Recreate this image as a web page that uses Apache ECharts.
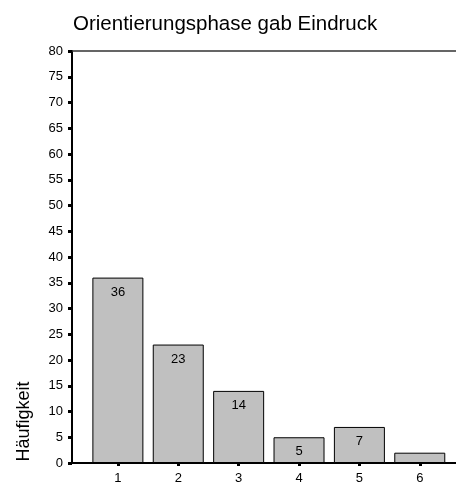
<!DOCTYPE html>
<html>
<head>
<meta charset="utf-8">
<script src="https://cdn.jsdelivr.net/npm/echarts@6/dist/echarts.min.js"></script>
<style>html,body{margin:0;padding:0;background:#fff}#c{width:456px;height:487px}</style>
</head>
<body>
<div id="c"></div>
<script>
const titleText = 'Orientierungsphase gab Eindruck';
const yTitle = 'Häufigkeit';
const categories = [1, 2, 3, 4, 5, 6];
const counts = [36, 23, 14, 5, 7, 2];
const yMin = 0, yMax = 80, yStep = 5;

const FONT = '"Liberation Sans", Arial, sans-serif';
const chart = echarts.init(document.getElementById('c'), null, {renderer: 'canvas'});
chart.setOption({
  animation: false,
  backgroundColor: '#fff',
  title: {
    text: titleText,
    left: 73, top: 14, padding: 0,
    textStyle: {fontFamily: FONT, fontSize: 20.5, fontWeight: 'normal', color: '#000'}
  },
  grid: {left: 72, right: 0, top: 51, bottom: 24, containLabel: false},
  graphic: [{
    type: 'text',
    x: 24.5, y: 421.5,
    rotation: Math.PI / 2,
    style: {text: yTitle, font: '18px ' + FONT, fill: '#000',
            align: 'center', verticalAlign: 'middle', textAlign: 'center', textVerticalAlign: 'middle'}
  }],
  xAxis: [{
    type: 'value', min: 0.24, max: 6.6,
    splitLine: {show: false},
    axisLine: {show: true, onZero: false, lineStyle: {color: '#000', width: 2}},
    axisTick: {show: true, customValues: categories, length: 3, lineStyle: {color: '#000', width: 3}},
    axisLabel: {show: true, customValues: categories, margin: 9, fontFamily: FONT, fontSize: 13, color: '#000'}
  }, {
    type: 'value', position: 'top', min: 0.24, max: 6.6,
    splitLine: {show: false},
    axisLine: {show: true, onZero: false, lineStyle: {color: '#333', width: 1.5}},
    axisTick: {show: false}, axisLabel: {show: false}
  }],
  yAxis: {
    type: 'value', min: yMin, max: yMax, interval: yStep,
    splitLine: {show: false},
    axisLine: {show: true, lineStyle: {color: '#000', width: 2}},
    axisTick: {show: true, length: 4, lineStyle: {color: '#000', width: 3}},
    axisLabel: {margin: 9, fontFamily: FONT, fontSize: 13, color: '#000'}
  },
  series: [{
    type: 'bar',
    xAxisIndex: 0,
    barWidth: 51,
    data: categories.map((c, i) => [c, counts[i]]),
    itemStyle: {color: '#c0c0c0', borderColor: '#000', borderWidth: 1},
    label: {
      show: true, position: 'insideTop', distance: 8,
      fontFamily: FONT, fontSize: 13, color: '#000',
      formatter: p => (p.value[1] >= 5 ? String(p.value[1]) : '')
    }
  }]
});
</script>
</body>
</html>
